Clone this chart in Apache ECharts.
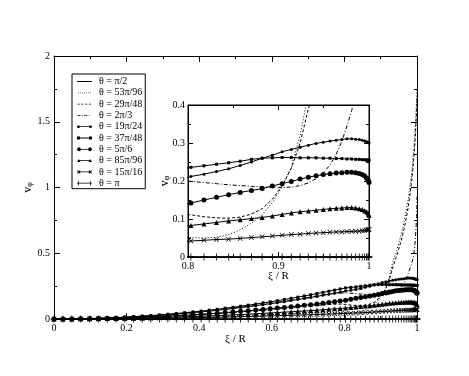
<!DOCTYPE html>
<html>
<head>
<meta charset="utf-8">
<script src="https://cdn.jsdelivr.net/npm/echarts@6/dist/echarts.min.js"></script>
<style>
  html, body { margin: 0; padding: 0; background: #fff; }
  #chart { width: 469px; height: 376px; }
</style>
</head>
<body>
<div id="chart"></div>
<script>
// radial grid points xi / R
var xi = [0, 0.0245, 0.0491, 0.0736, 0.098, 0.1224, 0.1467, 0.171, 0.1951, 0.2191, 0.243, 0.2667, 0.2903, 0.3137, 0.3369, 0.3599, 0.3827, 0.4052, 0.4276, 0.4496, 0.4714, 0.4929, 0.5141, 0.535, 0.5556, 0.5758, 0.5957, 0.6152, 0.6344, 0.6532, 0.6716, 0.6895, 0.7071, 0.7243, 0.741, 0.7572, 0.773, 0.7884, 0.8032, 0.8176, 0.8315, 0.8449, 0.8577, 0.8701, 0.8819, 0.8932, 0.904, 0.9142, 0.9239, 0.933, 0.9415, 0.9495, 0.9569, 0.9638, 0.97, 0.9757, 0.9808, 0.9853, 0.9892, 0.9925, 0.9952, 0.9973, 0.9988, 0.9997, 1];

var names = ['θ = π/2', 'θ = 53π/96', 'θ = 29π/48', 'θ = 2π/3', 'θ = 19π/24', 'θ = 37π/48', 'θ = 5π/6', 'θ = 85π/96', 'θ = 15π/16', 'θ = π'];

var vHalf = [0, 0, 0, 0, 0, 0, 0, 0, 0, 0, 0, 0, 0, 0, 0, 0, 0, 0, 0, 0, 0, 0, 0, 0, 0, 0, 0, 0, 0, 0, 0, 0, 0, 0, 0, 0, 0, 0, 0, 0, 0, 0, 0, 0, 0, 0, 0, 0, 0, 0, 0, 0, 0, 0, 0, 0, 0, 0, 0, 0, 0, 0, 0, 0, 0];
var v53 = [0, 0, 0, 0.001, 0.001, 0.001, 0.002, 0.003, 0.004, 0.005, 0.006, 0.007, 0.008, 0.009, 0.011, 0.012, 0.014, 0.015, 0.017, 0.019, 0.021, 0.023, 0.025, 0.027, 0.029, 0.031, 0.033, 0.036, 0.038, 0.040, 0.042, 0.044, 0.046, 0.047, 0.049, 0.050, 0.050, 0.051,
  0.051, 0.050, 0.052, 0.059, 0.071, 0.089, 0.111, 0.143, 0.185, 0.238, 0.320, 0.430, 0.500, 0.570, 0.650, 0.730, 0.820, 0.910, 1.010, 1.110, 1.220, 1.340, 1.460, 1.570, 1.660, 1.730, 1.760];
var v29 = [0, 0, 0.001, 0.001, 0.002, 0.003, 0.004, 0.006, 0.008, 0.010, 0.012, 0.014, 0.017, 0.020, 0.023, 0.026, 0.030, 0.033, 0.037, 0.041, 0.045, 0.049, 0.054, 0.058, 0.063, 0.067, 0.072, 0.077, 0.082, 0.087, 0.092, 0.096, 0.100, 0.104, 0.107, 0.110, 0.112, 0.113,
  0.111, 0.106, 0.103, 0.102, 0.105, 0.113, 0.127, 0.152, 0.187, 0.234, 0.300, 0.390, 0.460, 0.530, 0.600, 0.680, 0.760, 0.850, 0.950, 1.050, 1.160, 1.270, 1.380, 1.490, 1.580, 1.640, 1.680];
var v23 = [0, 0, 0.001, 0.002, 0.003, 0.005, 0.007, 0.010, 0.013, 0.016, 0.020, 0.024, 0.028, 0.033, 0.038, 0.044, 0.049, 0.055, 0.061, 0.068, 0.075, 0.082, 0.089, 0.096, 0.104, 0.111, 0.119, 0.127, 0.135, 0.143, 0.152, 0.160, 0.168, 0.176, 0.183, 0.189, 0.194, 0.198,
  0.199, 0.196, 0.193, 0.190, 0.188, 0.186, 0.185, 0.184, 0.183, 0.184, 0.188, 0.195, 0.206, 0.222, 0.242, 0.270, 0.305, 0.345, 0.385, 0.425, 0.460, 0.520, 0.600, 0.690, 0.780, 0.860, 0.930];
var v19 = [0, 0, 0.001, 0.002, 0.003, 0.005, 0.007, 0.010, 0.012, 0.016, 0.019, 0.023, 0.028, 0.032, 0.037, 0.043, 0.048, 0.054, 0.060, 0.066, 0.073, 0.080, 0.087, 0.094, 0.101, 0.109, 0.116, 0.124, 0.132, 0.140, 0.148, 0.156, 0.164, 0.172, 0.180, 0.188, 0.196, 0.204,
  0.212, 0.218, 0.225, 0.232, 0.241, 0.250, 0.260, 0.268, 0.277, 0.283, 0.289, 0.294, 0.299, 0.302, 0.305, 0.307, 0.309, 0.311, 0.311, 0.310, 0.309, 0.307, 0.305, 0.303, 0.302, 0.301, 0.300];
var v37 = [0, 0, 0.001, 0.002, 0.004, 0.006, 0.008, 0.011, 0.014, 0.018, 0.022, 0.026, 0.031, 0.036, 0.042, 0.048, 0.054, 0.060, 0.067, 0.074, 0.082, 0.089, 0.097, 0.105, 0.113, 0.122, 0.130, 0.139, 0.148, 0.157, 0.166, 0.175, 0.184, 0.193, 0.202, 0.211, 0.219, 0.228,
  0.236, 0.240, 0.244, 0.248, 0.252, 0.257, 0.260, 0.261, 0.262, 0.262, 0.261, 0.261, 0.261, 0.260, 0.260, 0.259, 0.259, 0.258, 0.258, 0.257, 0.257, 0.256, 0.256, 0.255, 0.255, 0.255, 0.255];
var v56 = [0, 0, 0, 0.001, 0.002, 0.003, 0.005, 0.006, 0.008, 0.011, 0.013, 0.016, 0.018, 0.022, 0.025, 0.028, 0.032, 0.036, 0.040, 0.044, 0.049, 0.053, 0.058, 0.063, 0.068, 0.073, 0.078, 0.083, 0.088, 0.093, 0.099, 0.104, 0.109, 0.115, 0.120, 0.125, 0.131, 0.136,
  0.142, 0.150, 0.157, 0.164, 0.170, 0.175, 0.180, 0.187, 0.193, 0.199, 0.205, 0.210, 0.214, 0.217, 0.219, 0.221, 0.222, 0.223, 0.223, 0.222, 0.220, 0.217, 0.213, 0.208, 0.203, 0.199, 0.196];
var v85 = [0, 0, 0, 0.001, 0.001, 0.002, 0.003, 0.004, 0.005, 0.006, 0.008, 0.009, 0.011, 0.013, 0.015, 0.017, 0.019, 0.021, 0.023, 0.026, 0.029, 0.031, 0.034, 0.037, 0.040, 0.043, 0.046, 0.049, 0.052, 0.055, 0.058, 0.061, 0.064, 0.067, 0.070, 0.074, 0.077, 0.080,
  0.083, 0.087, 0.091, 0.095, 0.098, 0.101, 0.104, 0.108, 0.112, 0.116, 0.119, 0.121, 0.123, 0.125, 0.127, 0.128, 0.129, 0.130, 0.130, 0.129, 0.127, 0.125, 0.122, 0.119, 0.116, 0.112, 0.110];
var v15 = [0, 0, 0, 0, 0.001, 0.001, 0.001, 0.002, 0.003, 0.003, 0.004, 0.005, 0.006, 0.006, 0.007, 0.008, 0.010, 0.011, 0.012, 0.013, 0.015, 0.016, 0.017, 0.019, 0.020, 0.022, 0.023, 0.025, 0.026, 0.028, 0.030, 0.031, 0.033, 0.034, 0.036, 0.038, 0.039, 0.041,
  0.042, 0.044, 0.046, 0.047, 0.049, 0.051, 0.053, 0.055, 0.057, 0.059, 0.060, 0.062, 0.063, 0.064, 0.065, 0.066, 0.066, 0.067, 0.067, 0.068, 0.068, 0.069, 0.070, 0.071, 0.072, 0.072, 0.073];
var vPi = [0, 0, 0, 0, 0, 0, 0, 0, 0, 0, 0, 0, 0, 0, 0, 0, 0, 0, 0, 0, 0, 0, 0, 0, 0, 0, 0, 0, 0, 0, 0, 0, 0, 0, 0, 0, 0, 0, 0, 0, 0, 0, 0, 0, 0, 0, 0, 0, 0, 0, 0, 0, 0, 0, 0, 0, 0, 0, 0, 0, 0, 0, 0, 0, 0];

var FONT = 'Liberation Serif';
var crossSym = 'path://M0,1L1,0L5,4L9,0L10,1L6,5L10,9L9,10L5,6L1,10L0,9L4,5Z';
var plusSym = 'path://M4.4,0H5.6V4.4H10V5.6H5.6V10H4.4V5.6H0V4.4H4.4Z';

// legend icons drawn in a 17x11 box (corner specks pin the box size)
var BOX = 'M0,0L0.01,0L0,0.01Z M17,11L16.99,11L17,10.99Z ';
var LINE = 'M1,5.1H14V5.9H1Z ';
var icons = [
  'path://' + BOX + 'M0,5.1H15V5.9H0Z',
  'path://' + BOX + 'M1,5.1H1.8V5.9H1Z M3,5.1H3.8V5.9H3Z M5,5.1H5.8V5.9H5Z M7,5.1H7.8V5.9H7Z M9,5.1H9.8V5.9H9Z M11,5.1H11.8V5.9H11Z M13,5.1H13.8V5.9H13Z',
  'path://' + BOX + 'M0.5,5.1H2.7V5.9H0.5Z M4.3,5.1H6.5V5.9H4.3Z M8.1,5.1H10.3V5.9H8.1Z M11.9,5.1H14.1V5.9H11.9Z',
  'path://' + BOX + 'M0.5,5.1H3.5V5.9H0.5Z M5,5.1H5.8V5.9H5Z M7.3,5.1H10.3V5.9H7.3Z M11.8,5.1H12.6V5.9H11.8Z',
  'path://' + BOX + LINE + 'M3,5.5L2.56,6.56L1.5,7L0.44,6.56L0,5.5L0.44,4.44L1.5,4L2.56,4.44Z M15,5.5L14.56,6.56L13.5,7L12.44,6.56L12,5.5L12.44,4.44L13.5,4L14.56,4.44Z',
  'path://' + BOX + LINE + 'M0,4H3V7H0Z M12,4H15V7H12Z',
  'path://' + BOX + LINE + 'M4,5.5L3.41,6.91L2,7.5L0.59,6.91L0,5.5L0.59,4.09L2,3.5L3.41,4.09Z M15,5.5L14.41,6.91L13,7.5L11.59,6.91L11,5.5L11.59,4.09L13,3.5L14.41,4.09Z',
  'path://' + BOX + LINE + 'M0,7L1.75,4L3.5,7Z M11.5,7L13.25,4L15,7Z',
  'path://' + BOX + LINE + 'M0,4.45L0.7,3.75L1.75,4.8L2.8,3.75L3.5,4.45L2.45,5.5L3.5,6.55L2.8,7.25L1.75,6.2L0.7,7.25L0,6.55L1.05,5.5Z M11.5,4.45L12.2,3.75L13.25,4.8L14.3,3.75L15,4.45L13.95,5.5L15,6.55L14.3,7.25L13.25,6.2L12.2,7.25L11.5,6.55L12.55,5.5Z',
  'path://' + BOX + 'M0,5.1H15V5.9H0Z M1.1,3.5H1.9V7.5H1.1Z M13.1,3.5H13.9V7.5H13.1Z'
];

var styles = [
  { data: vHalf, dash: 'solid', symbol: 'none', size: 0 },
  { data: v53, dash: [1, 2], symbol: 'none', size: 0 },
  { data: v29, dash: [3, 2], symbol: 'none', size: 0 },
  { data: v23, dash: [4, 2, 1, 2], symbol: 'none', size: 0 },
  { data: v19, dash: 'solid', symbol: 'circle', size: 3 },
  { data: v37, dash: 'solid', symbol: 'rect', size: 3 },
  { data: v56, dash: 'solid', symbol: 'circle', size: 5 },
  { data: v85, dash: 'solid', symbol: 'triangle', size: 5 },
  { data: v15, dash: 'solid', symbol: crossSym, size: 5 },
  { data: vPi, dash: 'solid', symbol: plusSym, size: 7 }
];

function makeSeries(idx, axisIdx, z) {
  var s = styles[idx];
  var pts = xi.map(function (x, i) { return [x, s.data[i]]; });
  return {
    name: names[idx],
    type: 'line',
    xAxisIndex: axisIdx,
    yAxisIndex: axisIdx,
    data: pts,
    z: z,
    clip: true,
    symbol: s.symbol,
    symbolSize: s.size,
    showSymbol: s.symbol !== 'none',
    itemStyle: { color: '#000' },
    lineStyle: { color: '#000', width: 1, type: s.dash },
    emphasis: { disabled: true }
  };
}

function valueAxis(opt) {
  var base = {
    type: 'value',
    nameMoveOverlap: false,
    axisLine: { show: true, onZero: false, lineStyle: { color: '#000', width: 1 } },
    axisTick: { show: true, inside: true, length: 6, lineStyle: { color: '#000' } },
    minorTick: { show: true, splitNumber: 2, length: 3, lineStyle: { color: '#000' } },
    splitLine: { show: false },
    axisLabel: { show: true, color: '#000', fontFamily: FONT, fontSize: 10 },
    nameTextStyle: { color: '#000', fontFamily: FONT, fontSize: 11 }
  };
  return Object.assign(base, opt);
}

var vName = {
  rich: {
    v: { fontFamily: FONT, fontSize: 12, color: '#000' },
    s: { fontFamily: FONT, fontSize: 8, color: '#000', padding: [5, 0, 0, 0] }
  }
};

var series = [];
for (var i = 0; i < 10; i++) series.push(makeSeries(i, 0, 2));
for (var j = 0; j < 10; j++) series.push(makeSeries(j, 2, 8));

var legendData = names.map(function (n, k) {
  return { name: n, icon: icons[k], itemStyle: { color: '#000', borderWidth: 0 } };
});

var chart = echarts.init(document.getElementById('chart'));
chart.setOption({
  animation: false,
  backgroundColor: '#fff',
  grid: [
    { left: 54, top: 56, width: 363, height: 263, show: false, z: 0 },
    { left: 188, top: 105, width: 181, height: 152, show: true, backgroundColor: '#fff', borderColor: '#000', borderWidth: 1, z: 5 }
  ],
  xAxis: [
    valueAxis({ gridIndex: 0, min: 0, max: 1, interval: 0.2, position: 'bottom',
      axisLabel: { color: '#000', fontFamily: FONT, fontSize: 10, margin: 4 },
      name: 'ξ / R', nameLocation: 'middle', nameGap: 15 }),
    valueAxis({ gridIndex: 0, min: 0, max: 1, interval: 0.2, position: 'top', axisLabel: { show: false } }),
    valueAxis({ gridIndex: 1, min: 0.8, max: 1, interval: 0.1, position: 'bottom', z: 6,
      axisTick: { show: true, inside: true, length: 5, lineStyle: { color: '#000' } },
      axisLabel: { color: '#000', fontFamily: FONT, fontSize: 10, margin: 4 },
      name: 'ξ / R', nameLocation: 'middle', nameGap: 14 }),
    valueAxis({ gridIndex: 1, min: 0.8, max: 1, interval: 0.1, position: 'top', z: 6,
      axisTick: { show: true, inside: true, length: 5, lineStyle: { color: '#000' } },
      axisLabel: { show: false } })
  ],
  yAxis: [
    valueAxis({ gridIndex: 0, min: 0, max: 2, interval: 0.5, position: 'left',
      axisLabel: { color: '#000', fontFamily: FONT, fontSize: 10, margin: 4 },
      name: '{v|v}{s|φ}', nameLocation: 'middle', nameGap: 20, nameRotate: 90, nameTextStyle: vName }),
    valueAxis({ gridIndex: 0, min: 0, max: 2, interval: 0.5, position: 'right', axisLabel: { show: false } }),
    valueAxis({ gridIndex: 1, min: 0, max: 0.4, interval: 0.1, position: 'left', z: 6,
      axisTick: { show: true, inside: true, length: 5, lineStyle: { color: '#000' } },
      axisLabel: { color: '#000', fontFamily: FONT, fontSize: 10, margin: 3 },
      name: '{v|v}{s|φ}', nameLocation: 'middle', nameGap: 17, nameRotate: 90, nameTextStyle: vName }),
    valueAxis({ gridIndex: 1, min: 0, max: 0.4, interval: 0.1, position: 'right', z: 6,
      axisTick: { show: true, inside: true, length: 5, lineStyle: { color: '#000' } },
      axisLabel: { show: false } })
  ],
  legend: {
    data: legendData,
    orient: 'vertical',
    left: 72,
    top: 74,
    z: 10,
    backgroundColor: '#fff',
    borderColor: '#000',
    borderWidth: 1,
    padding: [2, 3, 0, 5],
    itemGap: 0.3,
    itemWidth: 17,
    itemHeight: 11,
    selectedMode: false,
    textStyle: { fontFamily: FONT, fontSize: 10, color: '#000', lineHeight: 11 }
  },
  series: series
});
</script>
</body>
</html>
